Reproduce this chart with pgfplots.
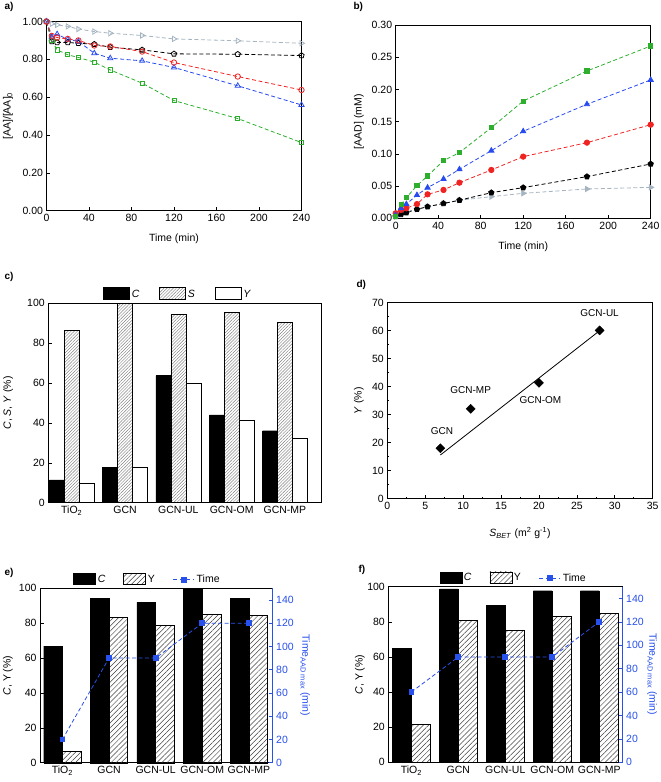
\documentclass[border=0pt]{standalone}
\usepackage{fontspec}
\setmainfont{Liberation Sans}
\usepackage{pgfplots}
\pgfplotsset{compat=1.18}
\usetikzlibrary{patterns.meta}
\definecolor{cgreen}{RGB}{45,175,45}
\definecolor{cblue}{RGB}{40,75,240}
\definecolor{cred}{RGB}{240,35,35}
\definecolor{cgray}{RGB}{165,180,192}
\definecolor{tblue}{RGB}{40,80,235}
\pgfplotsset{
  base/.style={scale only axis, anchor=south west,
    font=\fontsize{10.5}{12}\selectfont,
    /pgf/number format/assume math mode=true,
    tick align=inside, axis line style={line width=0.7pt},
    every tick/.style={black, line width=0.6pt},
    major tick length=3.5pt, minor tick length=2pt,
    clip=false, label style={font=\fontsize{10.5}{12}\selectfont},
    legend style={draw=none, fill=none, font=\fontsize{10.5}{12}\selectfont}},
  yl/.style={ylabel style={at={(axis description cs:#1,0.5)}, anchor=center}},
  xl/.style={xlabel style={at={(axis description cs:0.5,#1)}, anchor=center}},
  boxlegend/.style={legend image code/.code={\draw[##1] (0pt,-5pt) rectangle (26pt,7pt);}},
  boxlegendb/.style={legend image code/.code={\draw[##1] (0pt,-5pt) rectangle (22pt,6pt);}},
  linelegend/.style={legend image code/.code={\draw[mark repeat=2,mark phase=2,##1] plot coordinates {(0pt,0pt) (10.5pt,0pt) (21pt,0pt)};}},
  dl/.style={line width=0.8pt, dash pattern=on 4pt off 2.5pt},
}
\begin{document}
\begin{tikzpicture}
\useasboundingbox (0,0) rectangle (661pt,782pt);
% ---------- a ----------
\node[anchor=west,font=\bfseries\fontsize{10}{12}\selectfont] at (1pt,775pt) {a)};
\begin{axis}[base, at={(46.5pt,571.3pt)}, width=255pt, height=189.2pt,
  xmin=0, xmax=240, ymin=0, ymax=1, xtick={0,40,...,240}, ytick={0,0.2,...,1.0},
  tick pos=left,
  yticklabel style={/pgf/number format/.cd, fixed, fixed zerofill, precision=2},
  xlabel={Time (min)}, ylabel={[AA]/[AA]\textsubscript{0}}, yl=-0.151, xl=-0.15]
\addplot[cgray, dl, mark=triangle, mark size=3pt, mark options={solid, fill=white, rotate=-90}] coordinates {
(0,1.00) (5,0.988) (10,0.982) (20,0.974) (30,0.960) (45,0.947) (60,0.938) (90,0.926) (120,0.908) (180,0.898) (240,0.885)};
\addplot[black, dl, mark=pentagon, mark size=2.8pt, mark options={solid, fill=white}] coordinates {
(0,1.00) (5,0.894) (10,0.889) (20,0.889) (30,0.885) (45,0.880) (60,0.864) (90,0.850) (120,0.829) (180,0.827) (240,0.820)};
\addplot[cgreen, dl, mark=square, mark size=2.1pt, mark options={solid, fill=white}] coordinates {
(0,1.00) (5,0.898) (10,0.850) (20,0.824) (30,0.810) (45,0.785) (60,0.744) (90,0.674) (120,0.582) (180,0.487) (240,0.360)};
\addplot[cblue, dl, mark=triangle, mark size=3pt, mark options={solid, fill=white}] coordinates {
(0,1.00) (5,0.920) (10,0.933) (20,0.905) (30,0.895) (45,0.832) (60,0.806) (90,0.792) (120,0.757) (180,0.660) (240,0.559)};
\addplot[cred, dl, mark=o, mark size=2.7pt, mark options={solid, fill=white}] coordinates {
(0,1.00) (5,0.924) (10,0.915) (20,0.908) (30,0.900) (45,0.873) (60,0.868) (90,0.841) (120,0.783) (180,0.709) (240,0.638)};
\end{axis}
% ---------- b ----------
\node[anchor=west,font=\bfseries\fontsize{10}{12}\selectfont] at (350pt,775pt) {b)};
\begin{axis}[base, at={(395.7pt,563.7pt)}, width=255pt, height=193.3pt,
  xmin=0, xmax=240, ymin=0, ymax=0.30, xtick={0,40,...,240}, ytick={0,0.05,...,0.31},
  tick pos=left,
  yticklabel style={/pgf/number format/.cd, fixed, fixed zerofill, precision=2},
  xlabel={Time (min)}, ylabel={[AAD] (mM)}, yl=-0.144, xl=-0.148]
\addplot[cgray, dl, mark=triangle*, mark size=3pt, mark options={solid, rotate=-90}] coordinates {
(0,0.0026) (5,0.0078) (10,0.010) (20,0.014) (30,0.018) (45,0.023) (60,0.028) (90,0.0336) (120,0.0388) (180,0.0455) (240,0.048)};
\addplot[black, dl, mark=pentagon*, mark size=2.8pt, mark options={solid}] coordinates {
(0,0.003) (5,0.006) (10,0.0088) (20,0.014) (30,0.018) (45,0.023) (60,0.028) (90,0.0398) (120,0.0476) (180,0.0647) (240,0.0843)};
\addplot[cred, dl, mark=*, mark size=2.7pt, mark options={solid}] coordinates {
(0,0.0078) (5,0.013) (10,0.0155) (20,0.022) (30,0.0372) (45,0.044) (60,0.0553) (90,0.075) (120,0.0957) (180,0.1174) (240,0.1453)};
\addplot[cblue, dl, mark=triangle*, mark size=3pt, mark options={solid}] coordinates {
(0,0.005) (5,0.0155) (10,0.022) (20,0.036) (30,0.0476) (45,0.061) (60,0.076) (90,0.105) (120,0.135) (180,0.177) (240,0.2147)};
\addplot[cgreen, dl, mark=square*, mark size=2.1pt, mark options={solid}] coordinates {
(0,0.0026) (5,0.021) (10,0.032) (20,0.0507) (30,0.0657) (45,0.0895) (60,0.102) (90,0.1407) (120,0.182) (180,0.2286) (240,0.2674)};
\end{axis}
% ---------- c ----------
\node[anchor=west,font=\bfseries\fontsize{10}{12}\selectfont] at (1pt,505pt) {c)};
\begin{axis}[base, at={(48.3pt,279.3pt)}, width=273.4pt, height=199.4pt,
  xmin=-0.44, xmax=4.69, ymin=0, ymax=100, ytick={0,20,...,100},
  xtick={0,1,2,3,4}, xticklabels={TiO\textsubscript{2},GCN,GCN-UL,GCN-OM,GCN-MP},
  xtick style={draw=none}, ytick pos=left,
  ylabel={\textit{C}, \textit{S}, \textit{Y} (\%)}, yl=-0.147,
  legend columns=3, legend style={at={(0.19,1.0)}, anchor=south west,
    /tikz/every even column/.append style={column sep=18pt}}]
\addlegendimage{boxlegend, fill=black, draw=black}\addlegendentry{\textit{C}}
\addlegendimage{boxlegend, draw=black, pattern={Lines[angle=45,distance=2.2pt,line width=0.45pt]}, pattern color=gray}\addlegendentry{\textit{S}}
\addlegendimage{boxlegend, draw=black, fill=white}\addlegendentry{\textit{Y}}
\addplot[ybar, bar width=0.28, bar shift=-0.28, fill=black, draw=black, forget plot] coordinates {(0,11.4) (1,17.6) (2,63.7) (3,44.0) (4,36.1)};
\addplot[ybar, bar width=0.28, bar shift=0, draw=black, pattern={Lines[angle=45,distance=2.2pt,line width=0.45pt]}, pattern color=gray, forget plot] coordinates {(0,86.6) (1,100) (2,94.6) (3,95.5) (4,90.5)};
\addplot[ybar, bar width=0.28, bar shift=0.28, fill=white, draw=black, forget plot] coordinates {(0,9.7) (1,18.0) (2,60.0) (3,41.5) (4,32.1)};
\end{axis}
% ---------- d ----------
\node[anchor=west,font=\bfseries\fontsize{10}{12}\selectfont] at (353pt,497pt) {d)};
\begin{axis}[base, at={(387.3pt,283.3pt)}, width=265.4pt, height=196pt,
  xmin=0, xmax=35, ymin=0, ymax=70, xtick={0,5,...,35}, ytick={0,10,...,70},
  minor x tick num=1, minor y tick num=1, tick pos=left,
  xlabel={\textit{S}\textsubscript{\textit{BET}} (m\textsuperscript{2} g\textsuperscript{-1})},
  ylabel={\textit{Y} (\%)}, yl=-0.107, xl=-0.175]
\addplot[black, line width=0.8pt] coordinates {(7,15.6) (28,60.0)};
\addplot[only marks, mark=square*, mark size=3.2pt, mark options={rotate=45, fill=black}] coordinates {(7,18.0) (11,32.1) (20,41.4) (28,60.1)};
\node[font=\fontsize{10}{12}\selectfont] at (axis cs:7.2,24.3) {GCN};
\node[font=\fontsize{10}{12}\selectfont] at (axis cs:11,38.7) {GCN-MP};
\node[font=\fontsize{10}{12}\selectfont] at (axis cs:20.2,35.2) {GCN-OM};
\node[font=\fontsize{10}{12}\selectfont] at (axis cs:28,66.4) {GCN-UL};
\end{axis}
% ---------- e ----------
\node[anchor=west,font=\bfseries\fontsize{10}{12}\selectfont] at (1pt,209pt) {e)};
\begin{axis}[base, at={(40pt,19.3pt)}, width=232.7pt, height=174.4pt,
  xmin=-0.48, xmax=4.51, ymin=0, ymax=100, ytick={0,20,...,100},
  xtick={0,1,2,3,4}, xticklabels={TiO\textsubscript{2},GCN,GCN-UL,GCN-OM,GCN-MP},
  xtick style={draw=none}, ytick pos=left,
  ylabel={\textit{C}, Y (\%)}, yl=-0.1375]
\addplot[ybar, bar width=0.4, bar shift=-0.2, fill=black, draw=black] coordinates {(0,66.9) (1,94.1) (2,92.0) (3,100) (4,94.1)};
\addplot[ybar, bar width=0.4, bar shift=0.2, draw=black, pattern={Lines[angle=45,distance=3.6pt,line width=0.5pt]}, pattern color=darkgray] coordinates {(0,6.7) (1,83.2) (2,78.8) (3,85.1) (4,84.5)};
\end{axis}
\begin{axis}[base, at={(40pt,19.3pt)}, width=232.7pt, height=174.4pt,
  xmin=-0.48, xmax=4.51, ymin=0, ymax=150, ytick={0,20,...,140},
  axis x line=none, axis y line*=right,
  y axis line style={draw=tblue, line width=0.7pt}, ytick style={draw=tblue},
  yticklabel style={text=tblue},
  ylabel={Time\textsubscript{AAD max} (min)}, yl=1.139, ylabel style={text=tblue, rotate=180},
  legend columns=3, legend style={at={(0.13,1.0)}, anchor=south west,
    /tikz/every even column/.append style={column sep=16pt}}]
\addlegendimage{boxlegendb, fill=black, draw=black}\addlegendentry{\textit{C}}
\addlegendimage{boxlegendb, draw=black, pattern={Lines[angle=45,distance=3.6pt,line width=0.5pt]}, pattern color=darkgray}\addlegendentry{Y}
\addplot[tblue, dl, mark=square*, mark size=2.4pt, mark options={solid}, linelegend] coordinates {(0,20) (1,90) (2,90) (3,120) (4,120)};
\addlegendentry{Time}
\end{axis}
% ---------- f ----------
\node[anchor=west,font=\bfseries\fontsize{10}{12}\selectfont] at (355pt,212pt) {f)};
\begin{axis}[base, at={(388.3pt,19.7pt)}, width=234.4pt, height=175.6pt,
  xmin=-0.49, xmax=4.5, ymin=0, ymax=100, ytick={0,20,...,100},
  xtick={0,1,2,3,4}, xticklabels={TiO\textsubscript{2},GCN,GCN-UL,GCN-OM,GCN-MP},
  xtick style={draw=none}, ytick pos=left,
  ylabel={\textit{C}, Y (\%)}, yl=-0.121]
\addplot[ybar, bar width=0.4, bar shift=-0.2, fill=black, draw=black] coordinates {(0,64.9) (1,98.7) (2,89.2) (3,97.7) (4,97.7)};
\addplot[ybar, bar width=0.4, bar shift=0.2, draw=black, pattern={Lines[angle=45,distance=3.6pt,line width=0.5pt]}, pattern color=darkgray] coordinates {(0,21.6) (1,81.0) (2,75.3) (3,83.1) (4,84.8)};
\end{axis}
\begin{axis}[base, at={(388.3pt,19.7pt)}, width=234.4pt, height=175.6pt,
  xmin=-0.49, xmax=4.5, ymin=0, ymax=150, ytick={0,20,...,140},
  axis x line=none, axis y line*=right,
  y axis line style={draw=tblue, line width=0.7pt}, ytick style={draw=tblue},
  yticklabel style={text=tblue},
  ylabel={Time\textsubscript{AAD max} (min)}, yl=1.125, ylabel style={text=tblue, rotate=180},
  legend columns=3, legend style={at={(0.205,1.0)}, anchor=south west,
    /tikz/every even column/.append style={column sep=16pt}}]
\addlegendimage{boxlegendb, fill=black, draw=black}\addlegendentry{\textit{C}}
\addlegendimage{boxlegendb, draw=black, pattern={Lines[angle=45,distance=3.6pt,line width=0.5pt]}, pattern color=darkgray}\addlegendentry{Y}
\addplot[tblue, dl, mark=square*, mark size=2.4pt, mark options={solid}, linelegend] coordinates {(0,60) (1,90) (2,90) (3,90) (4,120)};
\addlegendentry{Time}
\end{axis}
\end{tikzpicture}
\end{document}
